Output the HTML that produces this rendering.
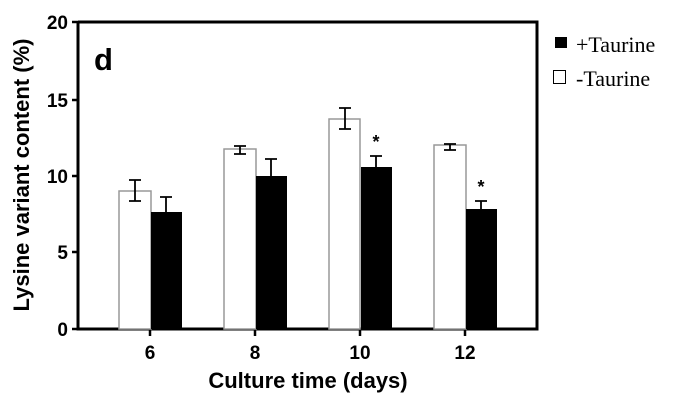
<!DOCTYPE html><html><head><style>body{margin:0;background:#fff}</style></head><body>
<svg width="683" height="401" xmlns="http://www.w3.org/2000/svg" font-family="Liberation Sans, Arial, sans-serif">
<rect width="683" height="401" fill="#fff"/>
<g stroke="#000" stroke-width="3" fill="none">
<polyline points="78,22 537,22 537,329 78,329 78,22"/>
</g>
<g stroke="#000" stroke-width="2.5">
<line x1="72" y1="22" x2="78" y2="22"/><line x1="72" y1="100" x2="78" y2="100"/><line x1="72" y1="176" x2="78" y2="176"/><line x1="72" y1="252" x2="78" y2="252"/><line x1="72" y1="329" x2="78" y2="329"/>
<line x1="150" y1="329" x2="150" y2="336"/><line x1="255" y1="329" x2="255" y2="336"/><line x1="360" y1="329" x2="360" y2="336"/><line x1="465" y1="329" x2="465" y2="336"/>
</g>
<g font-weight="bold" font-size="19" text-anchor="end" fill="#000">
<text x="68" y="29">20</text><text x="68" y="107">15</text><text x="68" y="183">10</text><text x="68" y="259">5</text><text x="68" y="336">0</text>
</g>
<g font-weight="bold" font-size="19" text-anchor="middle">
<text x="150" y="359">6</text><text x="255" y="359">8</text><text x="360" y="359">10</text><text x="465" y="359">12</text>
<text x="308" y="388" font-size="22">Culture time (days)</text>
<text transform="translate(29,175) rotate(-90)" font-size="22">Lysine variant content (%)</text>
</g>
<text x="94" y="70" font-weight="bold" font-size="31">d</text>
<g stroke="#999" stroke-width="1.5" fill="#fff">
<rect x="119" y="191" width="32" height="138"/>
<rect x="224" y="149" width="32" height="180"/>
<rect x="329" y="119" width="31" height="210"/>
<rect x="434" y="145" width="32" height="184"/>
</g>
<g fill="#000">
<rect x="151" y="212" width="31" height="117"/>
<rect x="256" y="176" width="31" height="153"/>
<rect x="361" y="167" width="31" height="162"/>
<rect x="466" y="209" width="31" height="120"/>
</g>
<g stroke="#000" stroke-width="1.8" fill="none">
<path d="M135 201V180M129 201h12M129 180h12"/>
<path d="M166 212V197M160 197h12"/>
<path d="M240 154V146M234 154h12M234 146h12"/>
<path d="M271 176V159M265 159h12"/>
<path d="M345 129V108M339 129h12M339 108h12"/>
<path d="M376 167V156M370 156h12"/>
<path d="M450 150V144M444 150h12M444 144h12"/>
<path d="M481 209V201M475 201h12"/>
</g>
<g font-size="18" font-weight="bold" text-anchor="middle"><text x="376" y="148">*</text><text x="481" y="193">*</text></g>
<rect x="555" y="37" width="12" height="11" fill="#000"/>
<rect x="553.5" y="70.5" width="12" height="13" fill="#fff" stroke="#000" stroke-width="1"/>
<g font-family="Liberation Serif, serif" font-size="22"><text x="576" y="52">+Taurine</text><text x="576" y="86">-Taurine</text></g>
</svg>
</body></html>
